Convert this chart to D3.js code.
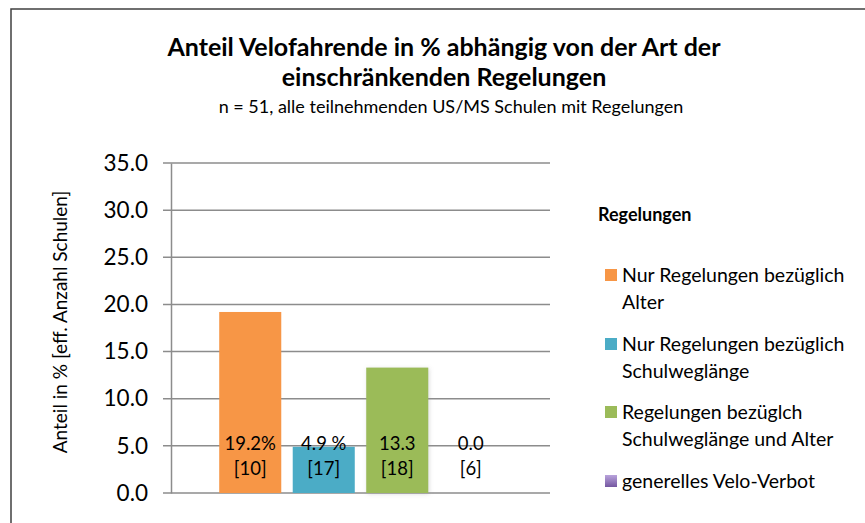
<!DOCTYPE html>
<html>
<head>
<meta charset="utf-8">
<script src="https://cdn.jsdelivr.net/npm/d3@7"></script>
<style>
  body { margin: 0; background: #fff; }
  svg text { font-family: Lato, "Open Sans", sans-serif; fill: #000; }
</style>
</head>
<body>
<div id="chart"></div>
<script>
// chart data
const series = ["Nur Regelungen bezüglich Alter", "Nur Regelungen bezüglich Schulweglänge",
  "Regelungen bezüglch Schulweglänge und Alter", "generelles Velo-Verbot"];
const legendLines = [["Nur Regelungen bezüglich", "Alter"], ["Nur Regelungen bezüglich", "Schulweglänge"],
  ["Regelungen bezüglch", "Schulweglänge und Alter"], ["generelles Velo-Verbot"]];
const values = [19.2, 4.9, 13.3, 0.0];
const valueLabels = ["19.2%", "4.9 %", "13.3", "0.0"];
const schoolCounts = ["[10]", "[17]", "[18]", "[6]"];
const colors = ["#F79646", "#4BACC6", "#9BBB59", "#8064A2"];
const yTicks = [0, 5, 10, 15, 20, 25, 30, 35];

const width = 865, height = 523;
const plot = {left: 171, right: 550, top: 163, bottom: 493};

let svg = d3.select("#chart").append("svg")
    .attr("width", width)
    .attr("height", height);

let defs = svg.append("defs");
let grad = defs.append("linearGradient").attr("id", "purpleGrad")
    .attr("x1", 0).attr("y1", 0).attr("x2", 0).attr("y2", 1);
grad.append("stop").attr("offset", "0%").attr("stop-color", "#b9a3dc");
grad.append("stop").attr("offset", "100%").attr("stop-color", "#7457a0");
let shadow = defs.append("filter").attr("id", "glow")
    .attr("x", "-20%").attr("y", "-20%").attr("width", "140%").attr("height", "140%");
shadow.append("feDropShadow").attr("dx", 1).attr("dy", 1)
    .attr("stdDeviation", 2).attr("flood-color", "#999").attr("flood-opacity", 0.35);

//frame (only top and left edges are visible)
svg.append("path")
    .attr("d", "M11,523 V9 H865")
    .attr("fill", "none")
    .attr("stroke", "#404040")
    .attr("stroke-width", 1.5);

//titles
svg.append("text").attr("x", 444).attr("y", 56).attr("text-anchor", "middle")
    .style("font-size", "25px").style("font-weight", "bold")
    .text("Anteil Velofahrende in % abhängig von der Art der");
svg.append("text").attr("x", 444).attr("y", 86).attr("text-anchor", "middle")
    .style("font-size", "25px").style("font-weight", "bold")
    .text("einschränkenden Regelungen");
svg.append("text").attr("x", 451).attr("y", 113).attr("text-anchor", "middle")
    .style("font-size", "18px")
    .text("n = 51, alle teilnehmenden US/MS Schulen mit Regelungen");

let y = d3.scaleLinear().domain([0, 35]).range([plot.bottom, plot.top]);
let x = d3.scaleBand().domain(series).range([plot.left, plot.right])
    .paddingInner(0.156).paddingOuter(0.656);

//gridlines
svg.append("g").selectAll("line")
    .data(yTicks)
    .enter()
    .append("line")
    .attr("x1", plot.left - 8)
    .attr("x2", plot.right)
    .attr("y1", d => y(d))
    .attr("y2", d => y(d))
    .attr("stroke", "#8c8c8c")
    .attr("stroke-width", 1.5);

//y axis
let yAxis = svg.append("g")
    .attr("transform", "translate(" + plot.left + ",0)")
    .call(d3.axisLeft(y).tickValues(yTicks).tickFormat(d3.format(".1f")).tickSize(0).tickPadding(23));
yAxis.select(".domain").attr("stroke", "#8c8c8c").attr("stroke-width", 1.5);
yAxis.selectAll("text").style("font-size", "22.5px").style("font-family", "Lato, 'Open Sans', sans-serif");

svg.append("text")
    .attr("transform", "translate(67,322) rotate(-90)")
    .attr("text-anchor", "middle")
    .style("font-size", "19px")
    .text("Anteil in % [eff. Anzahl Schulen]");

//bars
svg.append("g").selectAll("rect")
    .data(series)
    .enter()
    .append("rect")
    .attr("x", d => x(d))
    .attr("width", x.bandwidth())
    .attr("y", (d, i) => y(values[i]))
    .attr("height", (d, i) => y(0) - y(values[i]))
    .attr("fill", (d, i) => colors[i])
    .attr("filter", (d, i) => i == 2 ? "url(#glow)" : null);

//data labels
let labels = svg.append("g").selectAll("g")
    .data(series)
    .enter()
    .append("g");
labels.append("text")
    .attr("x", d => x(d) + x.bandwidth() / 2)
    .attr("y", y(0) - 43)
    .attr("text-anchor", "middle")
    .style("font-size", "18.5px")
    .text((d, i) => valueLabels[i]);
labels.append("text")
    .attr("x", d => x(d) + x.bandwidth() / 2)
    .attr("y", y(0) - 18)
    .attr("text-anchor", "middle")
    .style("font-size", "18.5px")
    .text((d, i) => schoolCounts[i]);

//legend
svg.append("text").attr("x", 598).attr("y", 221)
    .style("font-size", "18px").style("font-weight", "bold")
    .text("Regelungen");
let legendTop = [275, 344, 412, 481];
let legend = svg.append("g").selectAll("g")
    .data(series)
    .enter()
    .append("g");
legend.append("rect")
    .attr("x", 605)
    .attr("y", (d, i) => legendTop[i] - 6)
    .attr("width", 12)
    .attr("height", 12)
    .attr("fill", (d, i) => i == 3 ? "url(#purpleGrad)" : colors[i]);
legend.each(function(d, i) {
    d3.select(this).selectAll("text.l")
        .data(legendLines[i])
        .enter()
        .append("text")
        .attr("x", 622)
        .attr("y", (t, j) => legendTop[i] + 7 + j * 27)
        .style("font-size", "19.5px")
        .text(t => t);
});
</script>
</body>
</html>
